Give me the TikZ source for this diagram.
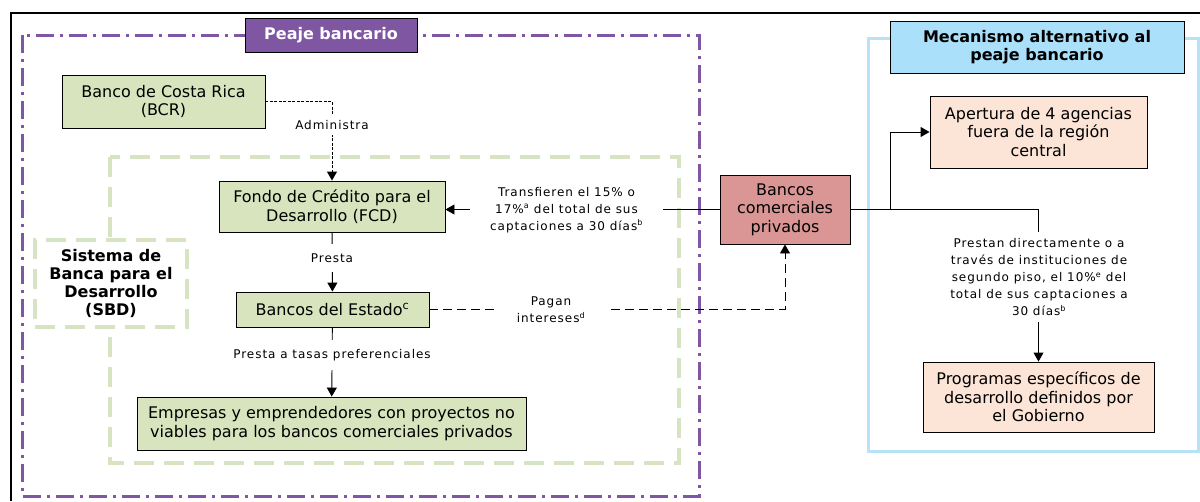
\documentclass[tikz,border=0pt]{standalone}
\usepackage{fontspec}
\setmainfont{DejaVu Sans}
\newfontfamily\lblfont[LetterSpace=8]{DejaVu Sans}
\usetikzlibrary{arrows.meta}
\definecolor{peajepurple}{RGB}{127,86,161}
\definecolor{sbdgreen}{RGB}{214,228,195}
\definecolor{boxgreen}{RGB}{215,228,190}
\definecolor{bancored}{RGB}{218,150,148}
\definecolor{altblue}{RGB}{171,224,250}
\definecolor{altframe}{RGB}{183,226,247}
\definecolor{peach}{RGB}{252,229,214}
\tikzset{
  box/.style={draw=black, line width=0.9pt, align=center, inner sep=0pt,
    font=\fontsize{16}{18.5}\selectfont},
  lbl/.style={fill=white, align=center, inner xsep=2pt, inner ysep=4pt,
    font=\lblfont\fontsize{12}{17}\selectfont},
  arr/.style={-{Triangle[length=9pt,width=10pt]}, line width=0.9pt}
}
\begin{document}
\begin{tikzpicture}[x=1pt,y=-1pt]
\useasboundingbox (0,0) rectangle (1200,501);
%\fill[white] (0,0) rectangle (1200,501);
\draw[line width=1.2pt] (11,501) -- (11,13) -- (1200,13);

\draw[peajepurple, line width=3pt, dash pattern=on 18pt off 6pt on 3pt off 6pt]
  (22,35) rectangle (699,496);
\draw[sbdgreen, line width=4pt, dash pattern=on 20pt off 10pt] (110,157) rectangle (679,463);
\draw[altframe, line width=3pt] (868,38) rectangle (1198,451);

\node[box, fill=peajepurple, text=white, font=\bfseries\fontsize{16}{18}\selectfont,
  minimum width=172pt, minimum height=34pt] (peaje) at (331,35) {Peaje bancario};
\node[box, fill=altblue, font=\bfseries\fontsize{16}{18}\selectfont,
  minimum width=294pt, minimum height=52pt] (alt) at (1037,47) {Mecanismo alternativo al\\peaje bancario};
\node[fill=white, draw=sbdgreen, line width=4pt, dash pattern=on 20pt off 10pt,
  minimum width=152pt, minimum height=87pt, align=center, inner sep=0pt,
  font=\bfseries\fontsize{16}{18}\selectfont] (sbd) at (111,283.5)
  {Sistema de\\Banca para el\\Desarrollo\\(SBD)};

\node[box, fill=boxgreen, minimum width=203pt, minimum height=53pt] (bcr) at (163.5,101.5)
  {Banco de Costa Rica\\(BCR)};
\node[box, fill=boxgreen, minimum width=226pt, minimum height=51pt] (fcd) at (332,206.5)
  {Fondo de Crédito para el\\Desarrollo (FCD)};
\node[box, fill=boxgreen, minimum width=193pt, minimum height=35pt] (est) at (332.5,309.5)
  {Bancos del Estado\textsuperscript{c}};
\node[box, fill=boxgreen, minimum width=389pt, minimum height=53pt] (emp) at (331.5,423.5)
  {Empresas y emprendedores con proyectos no\\viables para los bancos comerciales privados};
\node[box, fill=bancored, minimum width=130pt, minimum height=69pt] (com) at (785,209.5)
  {Bancos\\comerciales\\privados};
\node[box, fill=peach, minimum width=217pt, minimum height=72pt] (ape) at (1038.5,132)
  {Apertura de 4 agencias\\fuera de la región\\central};
\node[box, fill=peach, minimum width=231pt, minimum height=70pt] (prog) at (1038.5,397)
  {Programas específicos de\\desarrollo definidos por\\el Gobierno};

\draw[arr, dash pattern=on 3pt off 1.5pt] (bcr) -| (fcd);
\draw[arr] (com.west) -- (fcd.east |- com.west);
\draw[arr] (fcd) -- (est);
\draw[arr] (est) -- (emp);
\draw[arr, dash pattern=on 9pt off 5pt] (est) -| (com);
\coordinate (split) at (890,209.5);
\draw[line width=1.8pt] (com.east) -- (split);
\draw[arr] (split) |- (ape);
\draw[arr] (com.east) -| (prog);

\node[lbl, inner ysep=5pt] (adm) at (332,125) {Administra};
\node[lbl, inner xsep=20pt] (tra) at (566.5,210)
  {Transfieren el 15\% o\\17\%\textsuperscript{a} del total de sus\\captaciones a 30 días\textsuperscript{b}};
\node[lbl, inner ysep=10pt] (pre) at (332,258) {Presta};
\node[lbl, inner ysep=9pt] (tas) at (332,355) {Presta a tasas preferenciales};
\node[lbl, inner xsep=22pt] (pag) at (551,310) {Pagan\\intereses\textsuperscript{d}};
\node[lbl, inner ysep=6pt] (pdi) at (1039,277)
  {Prestan directamente o a\\través de instituciones de\\segundo piso, el 10\%\textsuperscript{e} del\\total de sus captaciones a\\30 días\textsuperscript{b}};
\end{tikzpicture}
\end{document}
